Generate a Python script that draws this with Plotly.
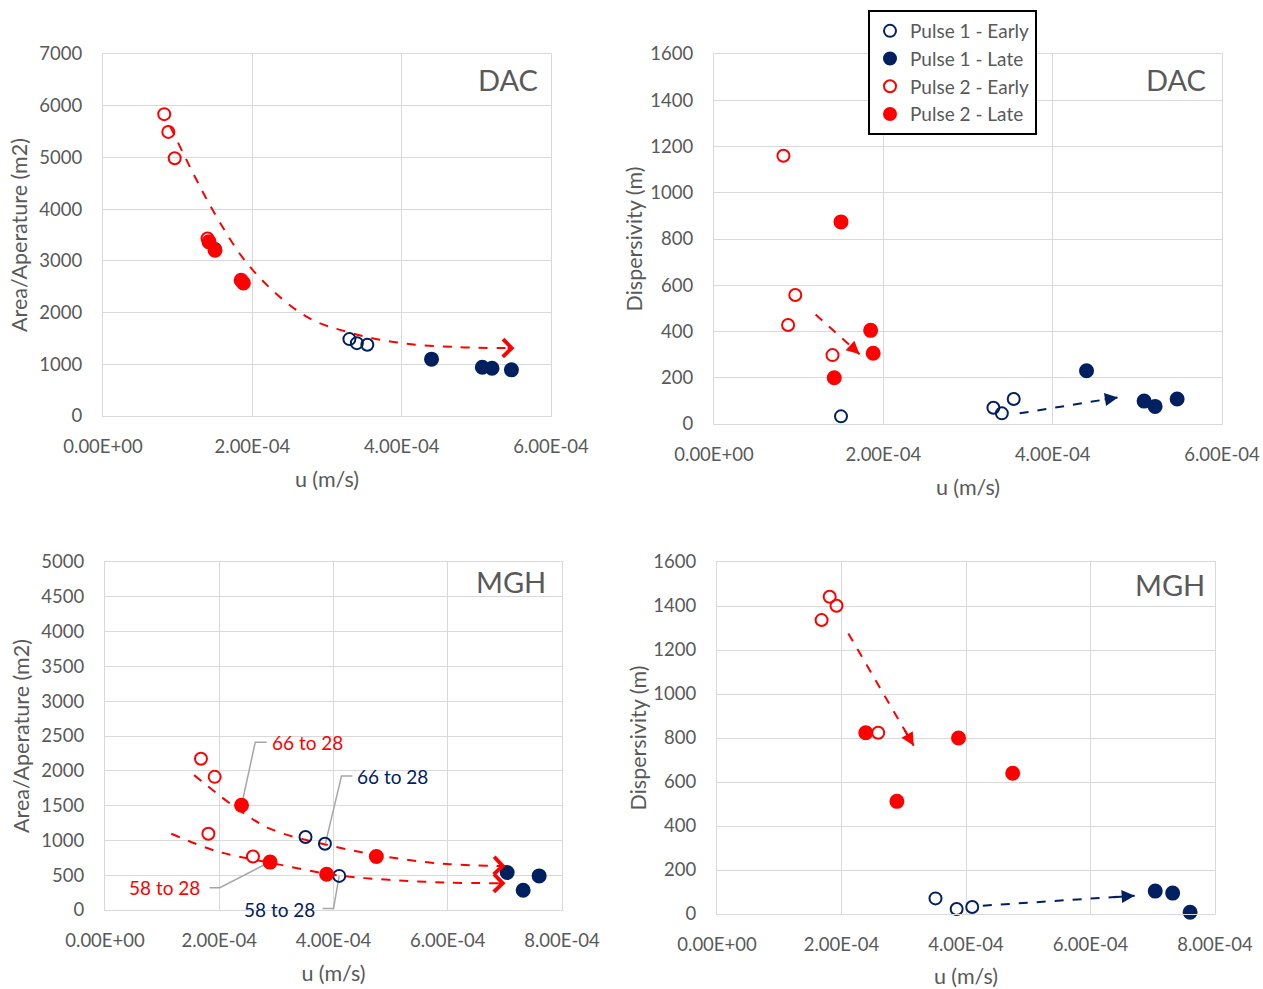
import plotly.graph_objects as go

# ---------------- DATA ----------------
# DAC site
dac_p1_early_u = [1.50e-4, 3.30e-4, 3.40e-4, 3.54e-4]
dac_p1_early_area = [3230, 1487, 1409, 1377]
dac_p1_early_disp = [33, 70, 46, 108]

dac_p1_late_u = [4.40e-4, 5.08e-4, 5.21e-4, 5.47e-4]
dac_p1_late_area = [1099, 944, 924, 892]
dac_p1_late_disp = [230, 99, 76, 108]

dac_p2_early_u = [0.82e-4, 0.875e-4, 0.96e-4, 1.40e-4]
dac_p2_early_area = [5837, 5494, 4984, 3432]
dac_p2_early_disp = [1160, 428, 558, 298]

dac_p2_late_u = [1.42e-4, 1.50e-4, 1.85e-4, 1.88e-4]
dac_p2_late_area = [3368, 3206, 2624, 2573]
dac_p2_late_disp = [200, 874, 405, 306]

# MGH site
mgh_p1_early_u = [3.51e-4, 3.85e-4, 4.10e-4]
mgh_p1_early_area = [1048, 952, 490]
mgh_p1_early_disp = [71, 23, 32]

mgh_p1_late_u = [7.04e-4, 7.32e-4, 7.60e-4]
mgh_p1_late_area = [538, 284, 490]
mgh_p1_late_disp = [104, 95, 8]

mgh_p2_early_u = [1.68e-4, 1.81e-4, 1.92e-4, 2.59e-4]
mgh_p2_early_area = [2173, 1096, 1913, 769]
mgh_p2_early_disp = [1336, 1442, 1401, 824]

mgh_p2_late_u = [2.39e-4, 2.89e-4, 3.88e-4, 4.75e-4]
mgh_p2_late_area = [1505, 688, 514, 769]
mgh_p2_late_disp = [824, 512, 800, 640]

# Trend guides (hand-drawn arrows in the original)
dac_area_guide_u = [0.90e-4, 1.49e-4, 2.0e-4, 2.72e-4, 3.33e-4, 4.0e-4, 4.77e-4, 5.51e-4]
dac_area_guide_v = [5600, 3930, 2831, 1926, 1603, 1409, 1332, 1312]
dac_disp_red_u = [1.20e-4, 1.72e-4]
dac_disp_red_v = [474, 302]
dac_disp_navy_u = [3.61e-4, 4.77e-4]
dac_disp_navy_v = [46, 115]

mgh_area_upper_u = [1.56e-4, 2.38e-4, 2.93e-4, 4.01e-4, 4.97e-4, 5.99e-4, 7.01e-4]
mgh_area_upper_v = [1938, 1418, 1154, 913, 760, 660, 632]
mgh_area_lower_u = [1.16e-4, 1.97e-4, 2.93e-4, 4.01e-4, 4.97e-4, 5.99e-4, 7.01e-4]
mgh_area_lower_v = [1096, 841, 673, 505, 433, 394, 385]
mgh_disp_red_u = [2.11e-4, 3.16e-4]
mgh_disp_red_v = [1275, 765]
mgh_disp_navy_u = [4.27e-4, 6.71e-4]
mgh_disp_navy_v = [38, 83]

# Callouts on MGH area panel: text, text position, leader path
callout_texts = ["66 to 28", "66 to 28", "58 to 28", "58 to 28"]
callout_colors = ["red", "navy", "red", "navy"]
callout_text_u = [3.55e-4, 5.04e-4, 1.04e-4, 3.06e-4]
callout_text_v = [2410, 1925, 320, 10]
callout_leader_u = [[2.83e-4, 2.63e-4, 2.39e-4],
                    [4.33e-4, 4.14e-4, 3.86e-4],
                    [1.83e-4, 2.01e-4, 2.88e-4],
                    [3.81e-4, 4.00e-4, 4.10e-4]]
callout_leader_v = [[2410, 2410, 1505],
                    [1925, 1925, 960],
                    [320, 320, 688],
                    [20, 20, 490]]

x_ticks_6 = [0, 2e-4, 4e-4, 6e-4]
x_ticks_8 = [0, 2e-4, 4e-4, 6e-4, 8e-4]
x_ticklabels_6 = ["0.00E+00", "2.00E-04", "4.00E-04", "6.00E-04"]
x_ticklabels_8 = ["0.00E+00", "2.00E-04", "4.00E-04", "6.00E-04", "8.00E-04"]

series_names = ["Pulse 1 - Early", "Pulse 1 - Late", "Pulse 2 - Early", "Pulse 2 - Late"]

# ---------------- STYLE ----------------
NAVY = "#002060"
RED = "#FF0000"
TXT = "#595959"
GRID = "#D9D9D9"
FONT = "Lato"
COLORS = {"red": RED, "navy": NAVY}

series_style = [
    dict(symbol="circle-open", color=NAVY, size=12),
    dict(symbol="circle", color=NAVY, size=13),
    dict(symbol="circle-open", color=RED, size=12),
    dict(symbol="circle", color=RED, size=13),
]

fig = go.Figure()


def add_series(xa, ya, data, legend):
    for i, (u, v) in enumerate(data):
        st = series_style[i]
        fig.add_trace(go.Scatter(
            x=u, y=v, mode="markers", name=series_names[i],
            legendgroup=series_names[i], showlegend=legend,
            xaxis=xa, yaxis=ya, cliponaxis=False,
            marker=dict(symbol=st["symbol"], color=st["color"], size=st["size"],
                        line=dict(color=st["color"], width=2)),
            hoverinfo="x+y",
        ))


def add_guide(xa, ya, u, v, color, spline):
    fig.add_trace(go.Scatter(
        x=u, y=v, mode="lines", showlegend=False, xaxis=xa, yaxis=ya,
        line=dict(color=color, width=2, dash="dash",
                  shape="spline" if spline else "linear", smoothing=1.0),
        hoverinfo="skip",
    ))


# Guides drawn first (under markers)
add_guide("x", "y", dac_area_guide_u, dac_area_guide_v, RED, True)
add_guide("x2", "y2", dac_disp_red_u, dac_disp_red_v, RED, False)
add_guide("x2", "y2", dac_disp_navy_u, dac_disp_navy_v, NAVY, False)
add_guide("x3", "y3", mgh_area_upper_u, mgh_area_upper_v, RED, True)
add_guide("x3", "y3", mgh_area_lower_u, mgh_area_lower_v, RED, True)
add_guide("x4", "y4", mgh_disp_red_u, mgh_disp_red_v, RED, False)
add_guide("x4", "y4", mgh_disp_navy_u, mgh_disp_navy_v, NAVY, False)

# Callout leader lines
for lu, lv in zip(callout_leader_u, callout_leader_v):
    fig.add_trace(go.Scatter(x=lu, y=lv, mode="lines", showlegend=False,
                             xaxis="x3", yaxis="y3", hoverinfo="skip", cliponaxis=False,
                             line=dict(color="#A6A6A6", width=1.5)))

add_series("x", "y", [(dac_p1_early_u, dac_p1_early_area), (dac_p1_late_u, dac_p1_late_area),
                      (dac_p2_early_u, dac_p2_early_area), (dac_p2_late_u, dac_p2_late_area)], False)
add_series("x2", "y2", [(dac_p1_early_u, dac_p1_early_disp), (dac_p1_late_u, dac_p1_late_disp),
                        (dac_p2_early_u, dac_p2_early_disp), (dac_p2_late_u, dac_p2_late_disp)], True)
add_series("x3", "y3", [(mgh_p1_early_u, mgh_p1_early_area), (mgh_p1_late_u, mgh_p1_late_area),
                        (mgh_p2_early_u, mgh_p2_early_area), (mgh_p2_late_u, mgh_p2_late_area)], False)
add_series("x4", "y4", [(mgh_p1_early_u, mgh_p1_early_disp), (mgh_p1_late_u, mgh_p1_late_disp),
                        (mgh_p2_early_u, mgh_p2_early_disp), (mgh_p2_late_u, mgh_p2_late_disp)], False)

annotations = []


def arrow_head(xa, ya, u, v, color, head, size):
    # short arrow at end of guide, oriented along the last segment
    x1, y1 = u[-1], v[-1]
    x0, y0 = u[-2], v[-2]
    f = 0.15
    annotations.append(dict(
        x=x1, y=y1, ax=x1 - f * (x1 - x0), ay=y1 - f * (y1 - y0),
        xref=xa, yref=ya, axref=xa, ayref=ya, text="", showarrow=True,
        arrowhead=head, arrowsize=size, arrowwidth=2, arrowcolor=color, standoff=0,
    ))


arrow_head("x", "y", dac_area_guide_u, dac_area_guide_v, RED, 4, 1.7)
arrow_head("x2", "y2", dac_disp_red_u, dac_disp_red_v, RED, 2, 1.3)
arrow_head("x2", "y2", dac_disp_navy_u, dac_disp_navy_v, NAVY, 2, 1.3)
arrow_head("x3", "y3", mgh_area_upper_u, mgh_area_upper_v, RED, 4, 1.7)
arrow_head("x3", "y3", mgh_area_lower_u, mgh_area_lower_v, RED, 4, 1.7)
arrow_head("x4", "y4", mgh_disp_red_u, mgh_disp_red_v, RED, 2, 1.3)
arrow_head("x4", "y4", mgh_disp_navy_u, mgh_disp_navy_v, NAVY, 2, 1.3)

for t, c, tu, tv in zip(callout_texts, callout_colors, callout_text_u, callout_text_v):
    annotations.append(dict(x=tu, y=tv, xref="x3", yref="y3", text=t, showarrow=False,
                            xanchor="center", yanchor="middle",
                            font=dict(family=FONT, size=19, color=COLORS[c])))

# Site labels
for xa, ya, txt, xf, yf in [("x", "y", "DAC", 0.975, 0.93), ("x2", "y2", "DAC", 0.972, 0.932),
                            ("x3", "y3", "MGH", 0.969, 0.943), ("x4", "y4", "MGH", 0.984, 0.935)]:
    annotations.append(dict(x=xf, y=yf, xref=xa + " domain", yref=ya + " domain", text=txt,
                            showarrow=False, xanchor="right", yanchor="middle",
                            font=dict(family=FONT, size=29, color=TXT)))

W, H = 1263, 989


def xax(px0, px1, anchor, ticks, labels, rng):
    return dict(domain=[px0 / W, px1 / W], anchor=anchor, range=rng, automargin=False,
                tickvals=ticks, ticktext=labels, showgrid=True, gridcolor=GRID, gridwidth=1.3,
                showline=True, linecolor=GRID, linewidth=1.3, mirror=True, zeroline=False,
                ticks="", ticklabelstandoff=14,
                tickfont=dict(family=FONT, size=18.5, color=TXT),
                title=dict(text="u (m/s)", font=dict(family=FONT, size=21.5, color=TXT), standoff=15))


def yax(py_bottom, py_top, anchor, rng, dtick, title, standoff):
    return dict(domain=[1 - py_bottom / H, 1 - py_top / H], anchor=anchor, range=rng, dtick=dtick,
                automargin=False,
                showgrid=True, gridcolor=GRID, gridwidth=1.3,
                showline=True, linecolor=GRID, linewidth=1.3, mirror=True, zeroline=False,
                ticks="", ticklabelstandoff=16,
                tickfont=dict(family=FONT, size=18.5, color=TXT),
                title=dict(text=title, font=dict(family=FONT, size=21.5, color=TXT), standoff=standoff))


fig.update_layout(
    width=W, height=H,
    margin=dict(l=0, r=0, t=0, b=0, autoexpand=False),
    paper_bgcolor="white", plot_bgcolor="white",
    font=dict(family=FONT, color=TXT),
    xaxis=xax(103, 551, "y", x_ticks_6, x_ticklabels_6, [0, 6e-4]),
    yaxis=yax(416, 54, "x", [0, 7000], 1000, "Area/Aperature (m2)", 5),
    xaxis2=xax(714, 1222, "y2", x_ticks_6, x_ticklabels_6, [0, 6e-4]),
    yaxis2=yax(424, 54, "x2", [0, 1600], 200, "Dispersivity (m)", 1),
    xaxis3=xax(105, 562, "y3", x_ticks_8, x_ticklabels_8, [0, 8e-4]),
    yaxis3=yax(910, 562, "x3", [0, 5000], 500, "Area/Aperature (m2)", 5),
    xaxis4=xax(717, 1215, "y4", x_ticks_8, x_ticklabels_8, [0, 8e-4]),
    yaxis4=yax(914, 562, "x4", [0, 1600], 200, "Dispersivity (m)", 0),
    legend=dict(x=868 / W, y=1 - 10 / H, xanchor="left", yanchor="top",
                bgcolor="white", bordercolor="black", borderwidth=2,
                font=dict(family=FONT, size=19, color=TXT),
                tracegroupgap=0, itemsizing="constant"),
    annotations=annotations,
    showlegend=True,
)

# remove the browser's default page margin so the figure fills the window exactly
fig.write_html(
    "out.html",
    config={"displayModeBar": False},
    post_script="document.body.style.margin='0px';document.body.style.padding='0px';"
                "document.documentElement.style.overflow='hidden';",
)
